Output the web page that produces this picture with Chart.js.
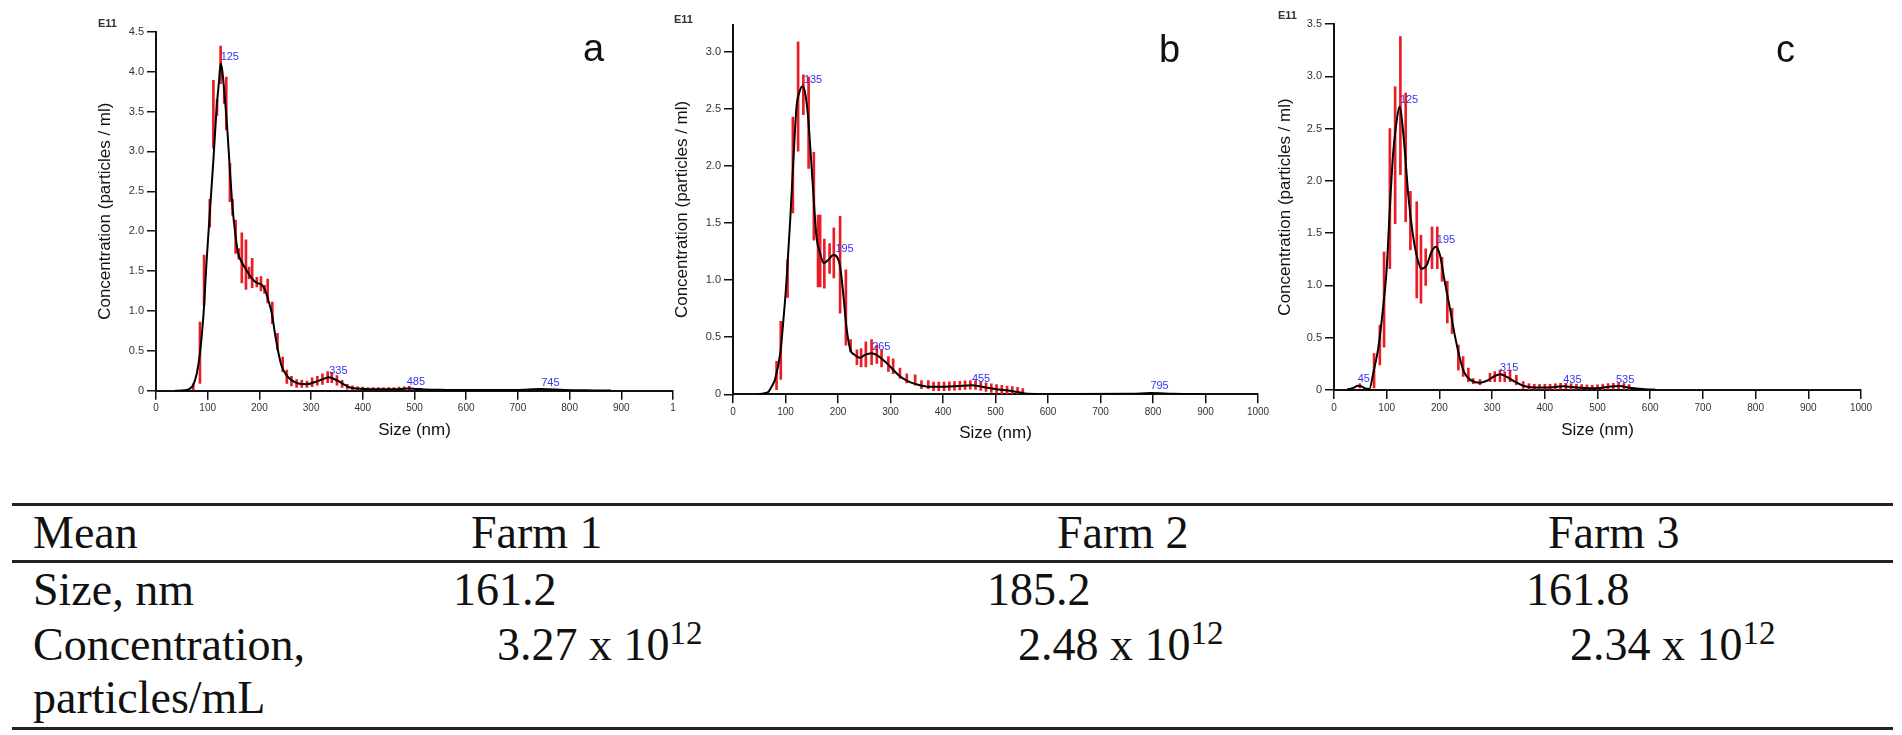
<!DOCTYPE html>
<html>
<head>
<meta charset="utf-8">
<script src="https://cdn.jsdelivr.net/npm/chart.js@4.4.1/dist/chart.umd.min.js"></script>
<style>
html,body{margin:0;padding:0;background:#fff;}
body{width:1902px;height:735px;overflow:hidden;position:relative;}
.box{position:absolute;top:0;height:450px;}
.t{position:absolute;white-space:nowrap;line-height:1;}
.serif{font-family:"Liberation Serif","Times New Roman",serif;font-size:46px;color:#111;}
.sup{font-size:33px;position:relative;top:-16px;}
.hl{position:absolute;left:12px;width:1881px;height:2.5px;background:#222;}
.e11{font-family:"Liberation Sans",Arial,sans-serif;font-size:11px;font-weight:bold;color:#333;}
.letter{font-family:"Liberation Sans",Arial,sans-serif;font-size:38px;color:#111;}
</style>
</head>
<body>
<div class="box" style="left:60px;width:640px;"><canvas id="ca"></canvas></div>
<div class="box" style="left:640px;width:645px;"><canvas id="cb"></canvas></div>
<div class="box" style="left:1240px;width:651px;"><canvas id="cc"></canvas></div>

<div class="t e11" style="left:98px;top:17.7px;">E11</div>
<div class="t e11" style="left:674px;top:13.7px;">E11</div>
<div class="t e11" style="left:1278px;top:9.7px;">E11</div>
<div class="t letter" style="left:583px;top:29px;">a</div>
<div class="t letter" style="left:1159px;top:30px;">b</div>
<div class="t letter" style="left:1776px;top:30px;">c</div>

<div class="hl" style="top:503px;"></div>
<div class="hl" style="top:560px;"></div>
<div class="hl" style="top:727px;"></div>
<div id="table"></div>

<script>
// ---------- Table data ----------
const rowLabels = ['Mean', 'Size, nm', 'Concentration,', 'particles/mL'];
const farms = ['Farm 1', 'Farm 2', 'Farm 3'];
const meanSizes = ['161.2', '185.2', '161.8'];
const concMantissa = ['3.27', '2.48', '2.34'];
const concExponent = '12';

// ---------- Axis ticks ----------
const xTicks = [0, 100, 200, 300, 400, 500, 600, 700, 800, 900, 1000];
const xLabelsA = ['0', '100', '200', '300', '400', '500', '600', '700', '800', '900', '1'];
const xLabelsBC = ['0', '100', '200', '300', '400', '500', '600', '700', '800', '900', '1000'];
const yTicksA = [0, 0.5, 1, 1.5, 2, 2.5, 3, 3.5, 4, 4.5];
const yLabelsA = ['0', '0.5', '1.0', '1.5', '2.0', '2.5', '3.0', '3.5', '4.0', '4.5'];
const yTicksB = [0, 0.5, 1, 1.5, 2, 2.5, 3];
const yLabelsB = ['0', '0.5', '1.0', '1.5', '2.0', '2.5', '3.0'];
const yTicksC = [0, 0.5, 1, 1.5, 2, 2.5, 3, 3.5];
const yLabelsC = ['0', '0.5', '1.0', '1.5', '2.0', '2.5', '3.0', '3.5'];

// ---------- Chart a (Farm 1) : size (nm) vs concentration (E11 particles/ml) ----------
const sizeA = [37,55,63,68,72,79,85,92,98,104,111,117,122,125,128,133,138,143,148,154,159,166,175,185,195,204,211,217,224,230,237,243,253,263,275,292,308,321,334,340,350,363,375,395,427,466,485,498,520,560,620,700,745,790,850,880];
const concA = [0,0.005,0.017,0.04,0.07,0.22,0.47,0.97,1.64,2.22,2.89,3.52,3.89,4.10,4.02,3.68,3.27,2.76,2.30,1.93,1.72,1.61,1.51,1.41,1.35,1.33,1.26,1.14,0.97,0.72,0.47,0.31,0.19,0.13,0.09,0.08,0.11,0.14,0.17,0.16,0.13,0.08,0.04,0.025,0.017,0.017,0.028,0.025,0.015,0.01,0.008,0.01,0.02,0.008,0.004,0.002];
const errSizeA = [72,85,93,104,111,118,125,132,136,143,148,154,160,166,174,180,186,195,203,210,216,225,235,245,253,262,272,282,292,302,312,322,332,340,350,360,370,380,390,400,410,420,430,440,450,460,470,480,490];
const errLoA = [0.00,0.09,1.07,2.05,3.04,3.45,3.85,3.60,3.27,2.37,2.20,1.72,1.65,1.35,1.27,1.40,1.29,1.30,1.25,1.22,1.10,0.84,0.51,0.24,0.09,0.06,0.04,0.04,0.04,0.05,0.07,0.08,0.10,0.10,0.07,0.04,0.02,0.01,0.00,0,0,0,0,0,0,0,0,0,0];
const errHiA = [0.09,0.86,1.70,2.40,3.89,3.65,4.32,3.80,3.93,2.85,2.40,2.14,1.78,1.98,1.89,1.55,1.66,1.42,1.43,1.32,1.40,1.11,0.72,0.42,0.26,0.18,0.14,0.13,0.12,0.16,0.18,0.21,0.24,0.23,0.19,0.13,0.08,0.06,0.05,0.045,0.04,0.04,0.04,0.04,0.04,0.04,0.045,0.05,0.055];
const peakSizeA = [125, 335, 485, 745];
const peakConcA = [4.10, 0.17, 0.03, 0.02];

// ---------- Chart b (Farm 2) ----------
const sizeB = [45,60,67,75,80,90,96,102,109,115,121,126,132,137,143,148,153,159,166,173,182,191,197,204,210,216,223,232,242,251,264,277,290,302,315,331,350,372,404,429,455,474,499,531,556,590,650,760,795,840,890];
const concB = [0,0.01,0.02,0.08,0.13,0.36,0.65,1.0,1.53,2.05,2.52,2.64,2.70,2.65,2.43,2.11,1.76,1.38,1.235,1.15,1.18,1.22,1.21,1.12,0.88,0.59,0.40,0.345,0.32,0.345,0.36,0.335,0.285,0.23,0.17,0.12,0.087,0.067,0.067,0.073,0.08,0.067,0.046,0.029,0.008,0.003,0.002,0.004,0.012,0.004,0.001];
const errSizeB = [83,91,104,114,124,134,144,154,162,166,174,184,192,204,215,224,236,244,253,264,274,283,296,305,318,331,347,359,372,382,392,402,412,422,432,442,452,462,472,482,492,502,512,522,532,542,552];
const errLoB = [0.04,0.13,0.85,1.59,2.13,2.45,1.98,1.35,0.94,0.94,0.93,1.06,1.02,0.71,0.43,0.37,0.26,0.24,0.24,0.26,0.27,0.24,0.20,0.18,0.14,0.10,0.08,0.05,0.05,0.032,0.032,0.032,0.034,0.036,0.039,0.042,0.045,0.042,0.033,0.026,0.017,0.01,0.003,0,0,0,0];
const errHiB = [0.29,0.64,1.18,2.43,3.09,2.80,2.78,2.12,1.57,1.57,1.36,1.32,1.46,1.56,1.09,0.48,0.39,0.40,0.46,0.48,0.43,0.39,0.33,0.31,0.23,0.18,0.17,0.12,0.12,0.107,0.107,0.107,0.109,0.111,0.114,0.117,0.12,0.117,0.108,0.101,0.092,0.085,0.078,0.073,0.068,0.06,0.05];
const peakSizeB = [135, 195, 265, 455, 795];
const peakConcB = [2.70, 1.22, 0.36, 0.08, 0.012];

// ---------- Chart c (Farm 3) ----------
const sizeC = [25,37,45,52,59,67,75,84,93,100,106,112,117,125,130,135,141,149,158,166,176,185,193,201,210,220,229,239,248,261,277,293,305,316,327,343,359,378,410,435,460,492,523,542,561,590,610];
const concC = [0.005,0.02,0.04,0.035,0.015,0.01,0.175,0.40,0.78,1.16,1.74,2.25,2.50,2.71,2.53,2.25,1.86,1.51,1.26,1.16,1.195,1.32,1.37,1.29,1.04,0.78,0.53,0.30,0.16,0.09,0.07,0.096,0.134,0.15,0.127,0.08,0.041,0.025,0.025,0.035,0.025,0.016,0.032,0.038,0.022,0.008,0.003];
const errSizeC = [49,76,87,95,106,116,126,136,145,157,165,174,186,196,205,215,224,236,245,255,264,277,296,305,315,324,334,346,359,370,380,390,400,410,420,430,440,450,460,470,480,490,500,510,520,530,540,550,560];
const errLoC = [0.02,0.02,0.24,0.41,1.16,1.59,2.06,1.61,1.34,0.88,0.83,1.00,1.16,1.16,1.04,0.64,0.54,0.19,0.13,0.08,0.06,0.05,0.08,0.08,0.08,0.08,0.08,0.05,0.015,0.005,0,0,0,0,0.005,0.009,0.009,0.005,0,0,0,0,0,0.001,0.006,0.01,0.013,0.007,0];
const errHiC = [0.06,0.35,0.62,1.32,2.50,2.90,3.38,2.84,1.90,1.80,1.48,1.35,1.56,1.56,1.27,1.04,0.78,0.43,0.32,0.21,0.11,0.10,0.16,0.175,0.19,0.175,0.19,0.14,0.08,0.06,0.055,0.055,0.055,0.055,0.06,0.064,0.064,0.06,0.055,0.052,0.049,0.046,0.05,0.056,0.061,0.065,0.068,0.062,0.052];
const peakSizeC = [45, 125, 195, 315, 435, 535];
const peakConcC = [0.04, 2.71, 1.37, 0.15, 0.035, 0.038];

// ---------- Table ----------
(function buildTable() {
  const host = document.getElementById('table');
  const baseOff = 38.5; // baseline offset for 46px serif with line-height 1
  const rowBase = [548, 605, 660, 713];
  function put(html, left, base) {
    const d = document.createElement('div');
    d.className = 't serif';
    d.style.left = left + 'px';
    d.style.top = (base - baseOff) + 'px';
    d.innerHTML = html;
    host.appendChild(d);
  }
  rowLabels.forEach((r, i) => put(r, 33, rowBase[i]));
  const farmX = [471, 1057, 1548];
  const sizeX = [453, 987, 1526];
  const concX = [497, 1018, 1570];
  farms.forEach((f, i) => {
    put(f, farmX[i], rowBase[0]);
    put(meanSizes[i], sizeX[i], rowBase[1]);
    put(concMantissa[i] + ' x 10<span class="sup">' + concExponent + '</span>', concX[i], rowBase[2]);
  });
})();

// ---------- Charts ----------
const FONT = '"Liberation Sans", Arial, sans-serif';
Chart.defaults.font.family = FONT;

function peakPlugin(sizes, values) {
  return {
    id: 'peakLabels',
    afterDatasetsDraw(chart) {
      const {ctx, scales: {x, y}} = chart;
      ctx.save();
      ctx.font = '11px ' + FONT;
      ctx.fillStyle = '#3535f0';
      ctx.textAlign = 'left';
      ctx.textBaseline = 'bottom';
      sizes.forEach((s, i) => {
        ctx.fillText(String(s), x.getPixelForValue(s), y.getPixelForValue(values[i]) - 1);
      });
      ctx.restore();
    }
  };
}

function makeChart(id, c) {
  const gridOpts = {display: true, drawOnChartArea: false, drawTicks: true, tickLength: 9, color: '#111', lineWidth: 1.5, offset: false};
  const borderOpts = {display: true, color: '#111', width: 2};
  new Chart(document.getElementById(id), {
    type: 'bar',
    data: {
      datasets: [
        {
          type: 'line',
          data: c.sizes.map((s, i) => ({x: s, y: c.conc[i]})),
          borderColor: '#000', borderWidth: 2, pointRadius: 0, fill: false,
          cubicInterpolationMode: 'monotone', order: 0
        },
        {
          type: 'bar',
          data: c.errSizes.map((s, i) => ({x: s, y: [c.errLo[i], c.errHi[i]]})),
          backgroundColor: '#ec1c24', borderWidth: 0, barThickness: 2, order: 1
        }
      ]
    },
    options: {
      responsive: true, maintainAspectRatio: false, animation: false, events: [],
      layout: {padding: {left: 0, right: c.padR, top: c.padT, bottom: c.padB}},
      plugins: {legend: {display: false}, tooltip: {enabled: false}},
      scales: {
        x: {
          type: 'linear', min: 0, max: 1000, offset: false,
          afterFit(s) { s.height = c.xH; },
          afterBuildTicks(s) { s.ticks = xTicks.map(v => ({value: v})); },
          ticks: {autoSkip: false, maxRotation: 0, padding: 3, color: '#333', font: {size: 10},
                  callback: (v) => c.xLabels[xTicks.indexOf(v)]},
          grid: gridOpts, border: borderOpts,
          title: {display: true, text: 'Size (nm)', color: '#111', font: {size: 17}, padding: {top: 0, bottom: c.xTitlePad}}
        },
        y: {
          type: 'linear', min: 0, max: c.yMax,
          afterFit(s) { s.width = c.yW; },
          afterBuildTicks(s) { s.ticks = c.yTicks.map(v => ({value: v})); },
          ticks: {padding: 3, color: '#333', font: {size: 11},
                  callback: (v) => c.yLabels[c.yTicks.indexOf(v)]},
          grid: gridOpts, border: borderOpts,
          title: {display: true, text: 'Concentration (particles / ml)', color: '#111', font: {size: 17}, padding: {top: c.yTitlePad, bottom: 0}}
        }
      }
    },
    plugins: [peakPlugin(c.peakSizes, c.peakConc)]
  });
}

makeChart('ca', {
  sizes: sizeA, conc: concA, errSizes: errSizeA, errLo: errLoA, errHi: errHiA,
  peakSizes: peakSizeA, peakConc: peakConcA,
  xLabels: xLabelsA, yTicks: yTicksA, yLabels: yLabelsA, yMax: 4.5,
  yW: 96, padR: 27, padT: 31.7, padB: 9.8, xH: 49.5, xTitlePad: 0, yTitlePad: 34.8
});
makeChart('cb', {
  sizes: sizeB, conc: concB, errSizes: errSizeB, errLo: errLoB, errHi: errHiB,
  peakSizes: peakSizeB, peakConc: peakConcB,
  xLabels: xLabelsBC, yTicks: yTicksB, yLabels: yLabelsB, yMax: 3.24,
  yW: 93, padR: 27, padT: 24.6, padB: 6.8, xH: 48.9, xTitlePad: 0, yTitlePad: 32.3
});
makeChart('cc', {
  sizes: sizeC, conc: concC, errSizes: errSizeC, errLo: errLoC, errHi: errHiC,
  peakSizes: peakSizeC, peakConc: peakConcC,
  xLabels: xLabelsBC, yTicks: yTicksC, yLabels: yLabelsC, yMax: 3.5,
  yW: 94, padR: 30, padT: 24, padB: 9.8, xH: 50.2, xTitlePad: 0, yTitlePad: 34.8
});
</script>
</body>
</html>
